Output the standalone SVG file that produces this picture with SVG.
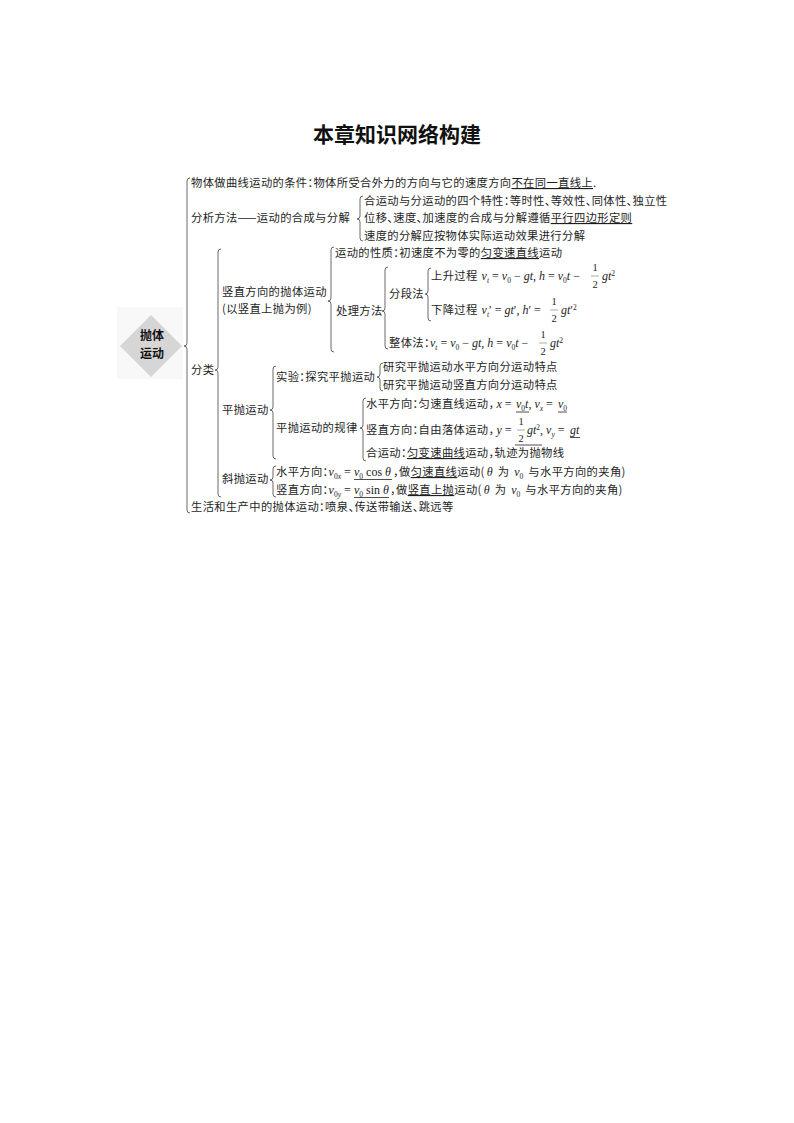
<svg xmlns="http://www.w3.org/2000/svg" width="794" height="1123" viewBox="0 0 794 1123">
<style>
.t{font-family:"Noto Sans CJK SC","Noto Sans",sans-serif;font-size:11.3px;letter-spacing:0.35px;fill:#1e1e1e;font-feature-settings:"halt"}
.m{font-family:"Liberation Serif",serif;font-style:italic;letter-spacing:0;font-size:12px}
.r{font-family:"Liberation Serif",serif;font-style:normal;letter-spacing:0;font-size:12px}
.sb{font-size:7.5px}
.u{text-decoration:underline}
.f{font-family:"Liberation Serif",serif;font-size:10.5px;fill:#1e1e1e;text-anchor:middle}
.bar{stroke:#555;stroke-width:0.5}
.ul{stroke:#222;stroke-width:0.8}
.br{fill:none;stroke:#444;stroke-width:0.8}
.dt{font-family:"Noto Sans CJK SC",sans-serif;font-size:12px;font-weight:700;fill:#111;text-anchor:middle}
</style>
<rect width="794" height="1123" fill="#ffffff"/>
<g id="title"><text x="397" y="142" text-anchor="middle" style="font-family:'Noto Sans CJK SC',sans-serif;font-size:21px;font-weight:700" fill="#111">本章知识网络构建</text></g>

<g id="root">
<rect x="117" y="307" width="66" height="72" fill="#f8f8f8"/>
<polygon points="151,315 182,346 151,377 120,346" fill="#d6d6d6"/>
<text class="dt" x="152" y="340">抛体</text>
<text class="dt" x="152" y="358">运动</text>
</g>

<g id="connectors">
<path class="br" d="M190,178 Q187,178 187,181 V343 Q187,346 184,346 Q187,346 187,349 V510 Q187,513 190,513"/>
<path class="br" d="M363,196 Q360,196 360,199 V216 Q360,219 357,219 Q360,219 360,222 V238 Q360,241 363,241"/>
<path class="br" d="M221,249 Q218,249 218,252 V367 Q218,370 215,370 Q218,370 218,373 V494 Q218,497 221,497"/>
<path class="br" d="M334,247 Q331,247 331,250 V298 Q331,301 328,301 Q331,301 331,304 V349 Q331,352 334,352"/>
<path class="br" d="M388,267 Q385,267 385,270 V308 Q385,311 382,311 Q385,311 385,314 V346 Q385,349 388,349"/>
<path class="br" d="M431,268 Q428,268 428,271 V291 Q428,294 425,294 Q428,294 428,297 V318 Q428,321 431,321"/>
<path class="br" d="M276,366 Q273,366 273,369 V407 Q273,410 270,410 Q273,410 273,413 V456 Q273,459 276,459"/>
<path class="br" d="M383,363 Q380,363 380,366 V374 Q380,377 377,377 Q380,377 380,380 V388 Q380,391 383,391"/>
<path class="br" d="M366,398 Q363,398 363,401 V425 Q363,428 360,428 Q363,428 363,431 V458 Q363,461 366,461"/>
<path class="br" d="M276,466 Q273,466 273,469 V477 Q273,480 270,480 Q273,480 273,483 V494 Q273,497 276,497"/>
</g>

<g id="n-condition"><text class="t" x="191" y="187">物体做曲线运动的条件：物体所受合外力的方向与它的速度方向<tspan class="u">不在同一直线上</tspan>.</text></g>

<g id="n-method"><text class="t" x="191" y="222">分析方法——运动的合成与分解</text></g>
<g id="n-method-1"><text class="t" x="364" y="205">合运动与分运动的四个特性：等时性、等效性、同体性、独立性</text></g>
<g id="n-method-2"><text class="t" x="364" y="222">位移、速度、加速度的合成与分解遵循<tspan class="u">平行四边形定则</tspan></text></g>
<g id="n-method-3"><text class="t" x="364" y="240">速度的分解应按物体实际运动效果进行分解</text></g>

<g id="n-class"><text class="t" x="191" y="374">分类</text></g>

<g id="n-vertical"><text class="t" x="222" y="296">竖直方向的抛体运动</text><text class="t" x="222" y="313">(以竖直上抛为例)</text></g>
<g id="n-nature"><text class="t" x="335" y="257">运动的性质：初速度不为零的<tspan class="u">匀变速直线</tspan>运动</text></g>
<g id="n-process"><text class="t" x="336" y="315">处理方法</text></g>
<g id="n-segment"><text class="t" x="389" y="298">分段法</text></g>

<g id="n-up">
<text class="t" x="431" y="280">上升过程<tspan class="m" dx="4">v</tspan><tspan class="m sb" dy="2.5">t</tspan><tspan class="r" dy="-2.5"> = </tspan><tspan class="m">v</tspan><tspan class="r sb" dy="2.5">0</tspan><tspan class="r" dy="-2.5"> − </tspan><tspan class="m">gt</tspan><tspan class="r">, </tspan><tspan class="m">h</tspan><tspan class="r"> = </tspan><tspan class="m">v</tspan><tspan class="r sb" dy="2.5">0</tspan><tspan class="m" dy="-2.5">t</tspan><tspan class="r"> − </tspan></text>
<text class="f" x="595" y="270.5">1</text><line class="bar" x1="591" x2="599" y1="276" y2="276"/><text class="f" x="595" y="288">2</text>
<text class="t" x="602" y="280"><tspan class="m">gt</tspan><tspan class="r sb" dy="-4.5">2</tspan></text>
</g>

<g id="n-down">
<text class="t" x="431" y="314">下降过程<tspan class="m" dx="4">v</tspan><tspan class="m sb" dy="2.5">t</tspan><tspan class="r" dy="-2.5">′ = </tspan><tspan class="m">gt</tspan><tspan class="r">′, </tspan><tspan class="m">h</tspan><tspan class="r">′ = </tspan></text>
<text class="f" x="554" y="304.5">1</text><line class="bar" x1="550" x2="558" y1="310" y2="310"/><text class="f" x="554" y="322">2</text>
<text class="t" x="561" y="314"><tspan class="m">gt</tspan><tspan class="r">′</tspan><tspan class="r sb" dy="-4.5">2</tspan></text>
</g>

<g id="n-whole">
<text class="t" x="389" y="347">整体法：<tspan class="m">v</tspan><tspan class="m sb" dy="2.5">t</tspan><tspan class="r" dy="-2.5"> = </tspan><tspan class="m">v</tspan><tspan class="r sb" dy="2.5">0</tspan><tspan class="r" dy="-2.5"> − </tspan><tspan class="m">gt</tspan><tspan class="r">, </tspan><tspan class="m">h</tspan><tspan class="r"> = </tspan><tspan class="m">v</tspan><tspan class="r sb" dy="2.5">0</tspan><tspan class="m" dy="-2.5">t</tspan><tspan class="r"> − </tspan></text>
<text class="f" x="543" y="337.5">1</text><line class="bar" x1="539" x2="547" y1="343" y2="343"/><text class="f" x="543" y="355">2</text>
<text class="t" x="550" y="347"><tspan class="m">gt</tspan><tspan class="r sb" dy="-4.5">2</tspan></text>
</g>

<g id="n-flat"><text class="t" x="222" y="414">平抛运动</text></g>
<g id="n-exp"><text class="t" x="276" y="381">实验：探究平抛运动</text></g>
<g id="n-exp-1"><text class="t" x="383" y="371">研究平抛运动水平方向分运动特点</text></g>
<g id="n-exp-2"><text class="t" x="383" y="389">研究平抛运动竖直方向分运动特点</text></g>
<g id="n-law"><text class="t" x="276" y="432">平抛运动的规律</text></g>

<g id="n-law-1">
<text class="t" x="366" y="408">水平方向：匀速直线运动，<tspan class="m" dx="2">x</tspan><tspan class="r"> = </tspan><tspan class="m" x="516">v</tspan><tspan class="r sb" dy="2.5">0</tspan><tspan class="m" dy="-2.5">t</tspan><tspan class="r">, </tspan><tspan class="m">v</tspan><tspan class="m sb" dy="2.5">x</tspan><tspan class="r" dy="-2.5"> = </tspan><tspan class="m" x="558">v</tspan><tspan class="r sb" dy="2.5">0</tspan></text>
<line class="ul" x1="516" x2="529" y1="412" y2="412"/>
<line class="ul" x1="558" x2="567" y1="412" y2="412"/>
</g>

<g id="n-law-2">
<text class="t" x="366" y="434">竖直方向：自由落体运动，<tspan class="m" dx="2">y</tspan><tspan class="r"> = </tspan></text>
<text class="f" x="521" y="424.5">1</text><line class="bar" x1="517" x2="525" y1="430" y2="430"/><text class="f" x="521" y="442">2</text>
<text class="t" x="527" y="434"><tspan class="m">gt</tspan><tspan class="r sb" dy="-4.5">2</tspan><tspan class="r" dy="4.5">, </tspan><tspan class="m">v</tspan><tspan class="m sb" dy="2.5">y</tspan><tspan class="r" dy="-2.5"> = </tspan><tspan class="m" x="570">gt</tspan></text>
<line class="ul" x1="515" x2="542" y1="445" y2="445"/>
<line class="ul" x1="570" x2="580" y1="437.5" y2="437.5"/>
</g>

<g id="n-law-3"><text class="t" x="366" y="457">合运动：<tspan class="u">匀变速曲线</tspan>运动，轨迹为抛物线</text></g>

<g id="n-oblique"><text class="t" x="222" y="483">斜抛运动</text></g>

<g id="n-oblique-1">
<text class="t" x="276" y="476">水平方向：<tspan class="m">v</tspan><tspan class="r sb" dy="2.5">0</tspan><tspan class="m sb">x</tspan><tspan class="r" dy="-2.5"> = </tspan><tspan class="m" x="354">v</tspan><tspan class="r sb" dy="2.5">0</tspan><tspan class="r" dy="-2.5"> cos </tspan><tspan class="m">θ</tspan><tspan x="393">，做</tspan><tspan class="u">匀速直线</tspan>运动(<tspan class="m" dx="2">θ</tspan><tspan dx="5">为</tspan><tspan class="m" dx="5">v</tspan><tspan class="r sb" dy="2.5">0</tspan><tspan dx="5" dy="-2.5">与水平方向的夹角)</tspan></text>
<line class="ul" x1="354" x2="392" y1="479.5" y2="479.5"/>
</g>

<g id="n-oblique-2">
<text class="t" x="276" y="494">竖直方向：<tspan class="m">v</tspan><tspan class="r sb" dy="2.5">0</tspan><tspan class="m sb">y</tspan><tspan class="r" dy="-2.5"> = </tspan><tspan class="m" x="354">v</tspan><tspan class="r sb" dy="2.5">0</tspan><tspan class="r" dy="-2.5"> sin </tspan><tspan class="m">θ</tspan><tspan x="390">，做</tspan><tspan class="u">竖直上抛</tspan>运动(<tspan class="m" dx="2">θ</tspan><tspan dx="5">为</tspan><tspan class="m" dx="5">v</tspan><tspan class="r sb" dy="2.5">0</tspan><tspan dx="5" dy="-2.5">与水平方向的夹角)</tspan></text>
<line class="ul" x1="354" x2="389" y1="497.5" y2="497.5"/>
</g>

<g id="n-life"><text class="t" x="191" y="511">生活和生产中的抛体运动：喷泉、传送带输送、跳远等</text></g>
</svg>
